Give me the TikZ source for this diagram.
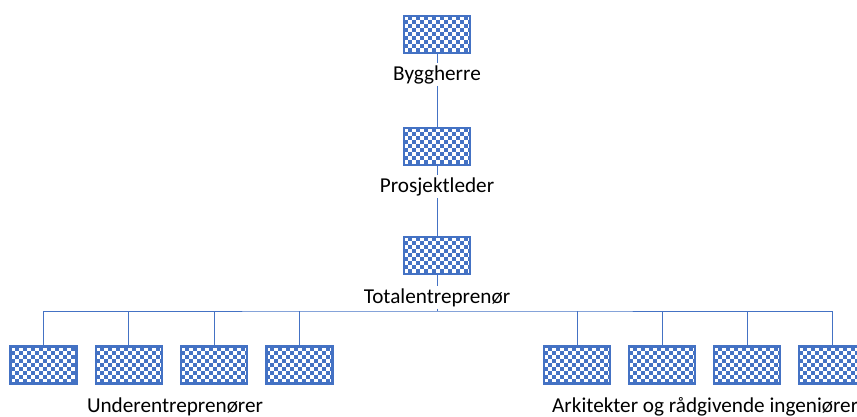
\documentclass[tikz,border=0pt]{standalone}
\usepackage{fontspec}
\setmainfont{Carlito}
\begin{document}
\begin{tikzpicture}[x=1pt,y=-1pt,
  every node/.style={font=\fontsize{21.2}{25}\selectfont},
  blu/.style={draw=orgblue},
  chk/.style={draw=orgblue, line width=2.4pt, fill=white,
    minimum width=66pt, minimum height=37pt, inner sep=0pt,
    path picture={
      \foreach \i in {0,...,17}{
        \foreach \j in {0,...,10}{
          \ifodd\numexpr\i+\j\relax
            \fill[orgblue] ([xshift=\i*4pt,yshift=-\j*4pt]path picture bounding box.north west)
              rectangle +(4pt,-4pt);
          \fi
        }
      }
    }},
  lbl/.style={inner sep=2pt, anchor=base, text=black},
  link/.style={draw=orgblue, line width=1pt}]
\definecolor{orgblue}{HTML}{4472C4}
\useasboundingbox (0,0) rectangle (857,416);
\clip (0,0) rectangle (857,416);

% chain of command
\node[chk] (b1) at (437,34.5) {};
\node[lbl] (l1) at (437,80) {Byggherre};
\node[chk] (b2) at (437,146.5) {};
\node[lbl] (l2) at (437,192) {Prosjektleder};
\node[chk] (b3) at (437,255.5) {};
\node[lbl] (l3) at (437,303) {Totalentreprenør};

\draw[link] (b1) -- (l1);
\draw[link] (l1) -- (b2);
\draw[link] (b2) -- (l2);
\draw[link] (l2) -- (b3);
\draw[link] (b3) -- (l3);

\coordinate (hub) at (437,311);
\draw[link] (l3.south) -- (hub);

% subcontractors and consultants
\node[chk] (u1) at (43.5,365) {};
\node[chk] (u2) at (128.8,365) {};
\node[chk] (u3) at (214,365) {};
\node[chk] (u4) at (299.3,365) {};
\node[chk] (r1) at (577,365) {};
\node[chk] (r2) at (662,365) {};
\node[chk] (r3) at (747,365) {};
\node[chk] (r4) at (832,365) {};

\draw[link] (u1.north) |- (hub) -| (r4.north);
\foreach \n in {u2,u3,u4,r1,r2,r3}
  \draw[link] (\n.north) -- (\n.north |- hub);

\node[lbl] (lu) at (175,412) {Underentreprenører};
\node[lbl, anchor=base west] (lr) at (550,412) {Arkitekter og rådgivende ingeniører};
\end{tikzpicture}
\end{document}
